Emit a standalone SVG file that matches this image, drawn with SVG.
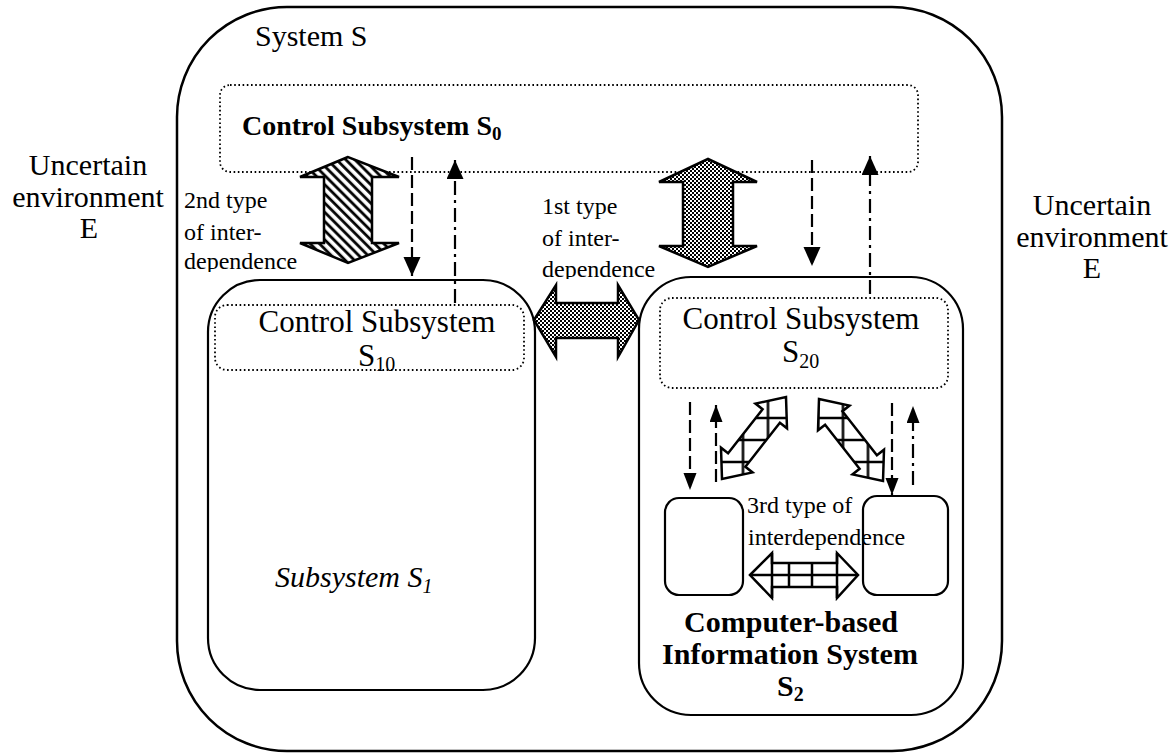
<svg xmlns="http://www.w3.org/2000/svg" width="1172" height="755" viewBox="0 0 1172 755">
<style>
text{font-family:"Liberation Serif","Times New Roman",serif;fill:#000}
.t30{font-size:30px}
.t31{font-size:31px}
.t24{font-size:24px}
.sub{font-size:20px}
.b{font-weight:bold}
.box{fill:none;stroke:#000;stroke-width:2.5}
.ibox{fill:none;stroke:#000;stroke-width:2.2}
.dot{fill:none;stroke:#000;stroke-width:1.8;stroke-dasharray:1.6 2.6}
.dash{fill:none;stroke:#000;stroke-width:2.2;stroke-dasharray:13 5}
.dashdot{fill:none;stroke:#000;stroke-width:2.2;stroke-dasharray:14 5 3 5}
.arr{stroke:#000;stroke-width:2.5;stroke-linejoin:miter}
</style>
<defs>
<pattern id="hatch" patternUnits="userSpaceOnUse" width="6.5" height="6.5" patternTransform="rotate(-45)">
<rect width="6.5" height="6.5" fill="#fff"/>
<line x1="1.6" y1="0" x2="1.6" y2="6.5" stroke="#000" stroke-width="2.8"/>
</pattern>
<pattern id="check" patternUnits="userSpaceOnUse" width="4" height="4">
<rect width="4" height="4" fill="#fff"/>
<rect width="2" height="2" fill="#000"/>
<rect x="2" y="2" width="2" height="2" fill="#000"/>
</pattern>
<pattern id="grid" patternUnits="userSpaceOnUse" x="730.5" y="429" width="25" height="22">
<rect width="25" height="22" fill="#fff"/>
<path d="M12.5,0 V22 M0,11 H25" stroke="#000" stroke-width="2.5" fill="none"/>
</pattern>
<marker id="ah" markerUnits="userSpaceOnUse" markerWidth="20" markerHeight="18" refX="19" refY="8.5" orient="auto">
<path d="M0,0 L19,8.5 L0,17 z" fill="#000"/>
</marker>
<marker id="ahs" markerUnits="userSpaceOnUse" markerWidth="18" markerHeight="14" refX="17" refY="6.5" orient="auto">
<path d="M0,0 L17,6.5 L0,13 z" fill="#000"/>
</marker>
<clipPath id="clipL"><rect x="178" y="180" width="135" height="92"/></clipPath>
<clipPath id="clipR"><rect x="536" y="185" width="135" height="94"/></clipPath>
</defs>
<rect width="1172" height="755" fill="#fff"/>

<g id="env-left">
<text class="t30" x="88" y="175" text-anchor="middle">Uncertain</text>
<text class="t30" x="88" y="207" text-anchor="middle">environment</text>
<text class="t30" x="89" y="238" text-anchor="middle">E</text>
</g>
<g id="env-right">
<text class="t30" x="1092" y="215" text-anchor="middle">Uncertain</text>
<text class="t30" x="1092" y="247" text-anchor="middle">environment</text>
<text class="t30" x="1092" y="278" text-anchor="middle">E</text>
</g>

<g id="system-S">
<rect class="box" x="177" y="7" width="825" height="744" rx="110" ry="110"/>
<text class="t30" x="255" y="46">System S</text>
</g>

<g id="control-S0">
<rect class="dot" x="220" y="85" width="698" height="87" rx="10" ry="10"/>
<text class="b" x="242" y="135" style="font-size:28px">Control Subsystem S<tspan class="b" style="font-size:19px" dy="5">0</tspan></text>
</g>

<g id="subsystem-S1">
<rect class="ibox" x="208" y="280" width="327" height="410" rx="52" ry="52"/>
<text class="t30" x="275" y="587" font-style="italic">Subsystem S<tspan class="sub" dy="6">1</tspan></text>
</g>

<g id="control-S10">
<rect class="dot" x="215" y="305" width="309" height="65" rx="12" ry="12"/>
<text class="t31" x="377" y="332" text-anchor="middle">Control Subsystem</text>
<text class="t31" x="358" y="366">S<tspan class="sub" dy="5">10</tspan></text>
</g>

<g id="cbis-S2">
<rect class="ibox" x="639" y="277" width="324" height="438" rx="52" ry="52"/>
<text class="b" style="font-size:30px" x="791" y="632" text-anchor="middle">Computer-based</text>
<text class="b" style="font-size:30px" x="790" y="664" text-anchor="middle">Information System</text>
<text class="b" style="font-size:30px" x="777" y="696">S<tspan class="b" style="font-size:20px" dy="5">2</tspan></text>
</g>

<g id="control-S20">
<rect class="dot" x="660" y="298" width="288" height="90" rx="12" ry="12"/>
<text class="t31" x="801" y="329" text-anchor="middle">Control Subsystem</text>
<text class="t31" x="782" y="362">S<tspan class="sub" dy="6">20</tspan></text>
</g>

<g id="unit-left">
<rect class="ibox" x="665" y="498" width="78" height="97" rx="14" ry="14"/>
</g>
<g id="unit-right">
<rect class="ibox" x="863" y="496" width="85" height="99" rx="14" ry="14"/>
</g>

<g id="labels">
<g clip-path="url(#clipL)">
<text class="t24" x="184" y="208">2nd type</text>
<text class="t24" x="184" y="240">of inter-</text>
<text class="t24" x="184" y="269">dependence</text>
</g>
<g clip-path="url(#clipR)">
<text class="t24" x="542" y="214">1st type</text>
<text class="t24" x="542" y="246">of inter-</text>
<text class="t24" x="542" y="277">dependence</text>
</g>
<text class="t24" x="747" y="513">3rd type of</text>
<text class="t24" x="748" y="545">interdependence</text>
</g>

<g id="connectors">
<polygon class="arr" fill="url(#hatch)" points="348,157 300,177 324,177 324,243 300,243 348,263 399,243 372,243 372,177 399,177"/>
<polygon class="arr" fill="url(#check)" points="708,159 659,182 683,182 683,246 659,246 708,267 757,246 733,246 733,182 757,182"/>
<polygon class="arr" fill="url(#check)" points="534,320 556,285 556,303 618,303 618,285 639,320 618,357 618,338 556,338 556,357"/>

<polygon class="arr" fill="url(#grid)" points="722,479 721,447.7 728.1,453.3 762.6,409.2 755.5,403.6 786,397 787,428.3 779.9,422.7 745.4,466.8 752.5,472.4"/>
<polygon class="arr" fill="url(#grid)" points="819,399 849.5,405.6 842.4,411.2 876.9,455.3 884,449.7 883,481 852.5,474.4 859.6,468.8 825.1,424.7 818,430.3"/>

<polygon class="arr" fill="#fff" points="750,575 772,553 772,563 837,563 837,553 858,575 837,598 837,587 772,587 772,598"/>
<path d="M772,553 V598 M789,563 V587 M812,563 V587 M837,553 V598 M750,575 H858" stroke="#000" stroke-width="2.5" fill="none"/>

<line class="dash" x1="412" y1="157" x2="412" y2="276" marker-end="url(#ah)"/>
<line class="dashdot" x1="455" y1="303" x2="455" y2="160" marker-end="url(#ah)"/>
<line class="dash" x1="812" y1="160" x2="812" y2="266" marker-end="url(#ah)"/>
<line class="dashdot" x1="870" y1="294" x2="870" y2="156" marker-end="url(#ah)"/>

<line class="dash" x1="690" y1="402" x2="690" y2="490" marker-end="url(#ahs)"/>
<line class="dash" x1="716" y1="482" x2="716" y2="405" marker-end="url(#ahs)"/>
<line class="dash" x1="892" y1="403" x2="892" y2="495" marker-end="url(#ahs)"/>
<line class="dashdot" x1="913" y1="485" x2="913" y2="406" marker-end="url(#ahs)"/>
</g>
</svg>
